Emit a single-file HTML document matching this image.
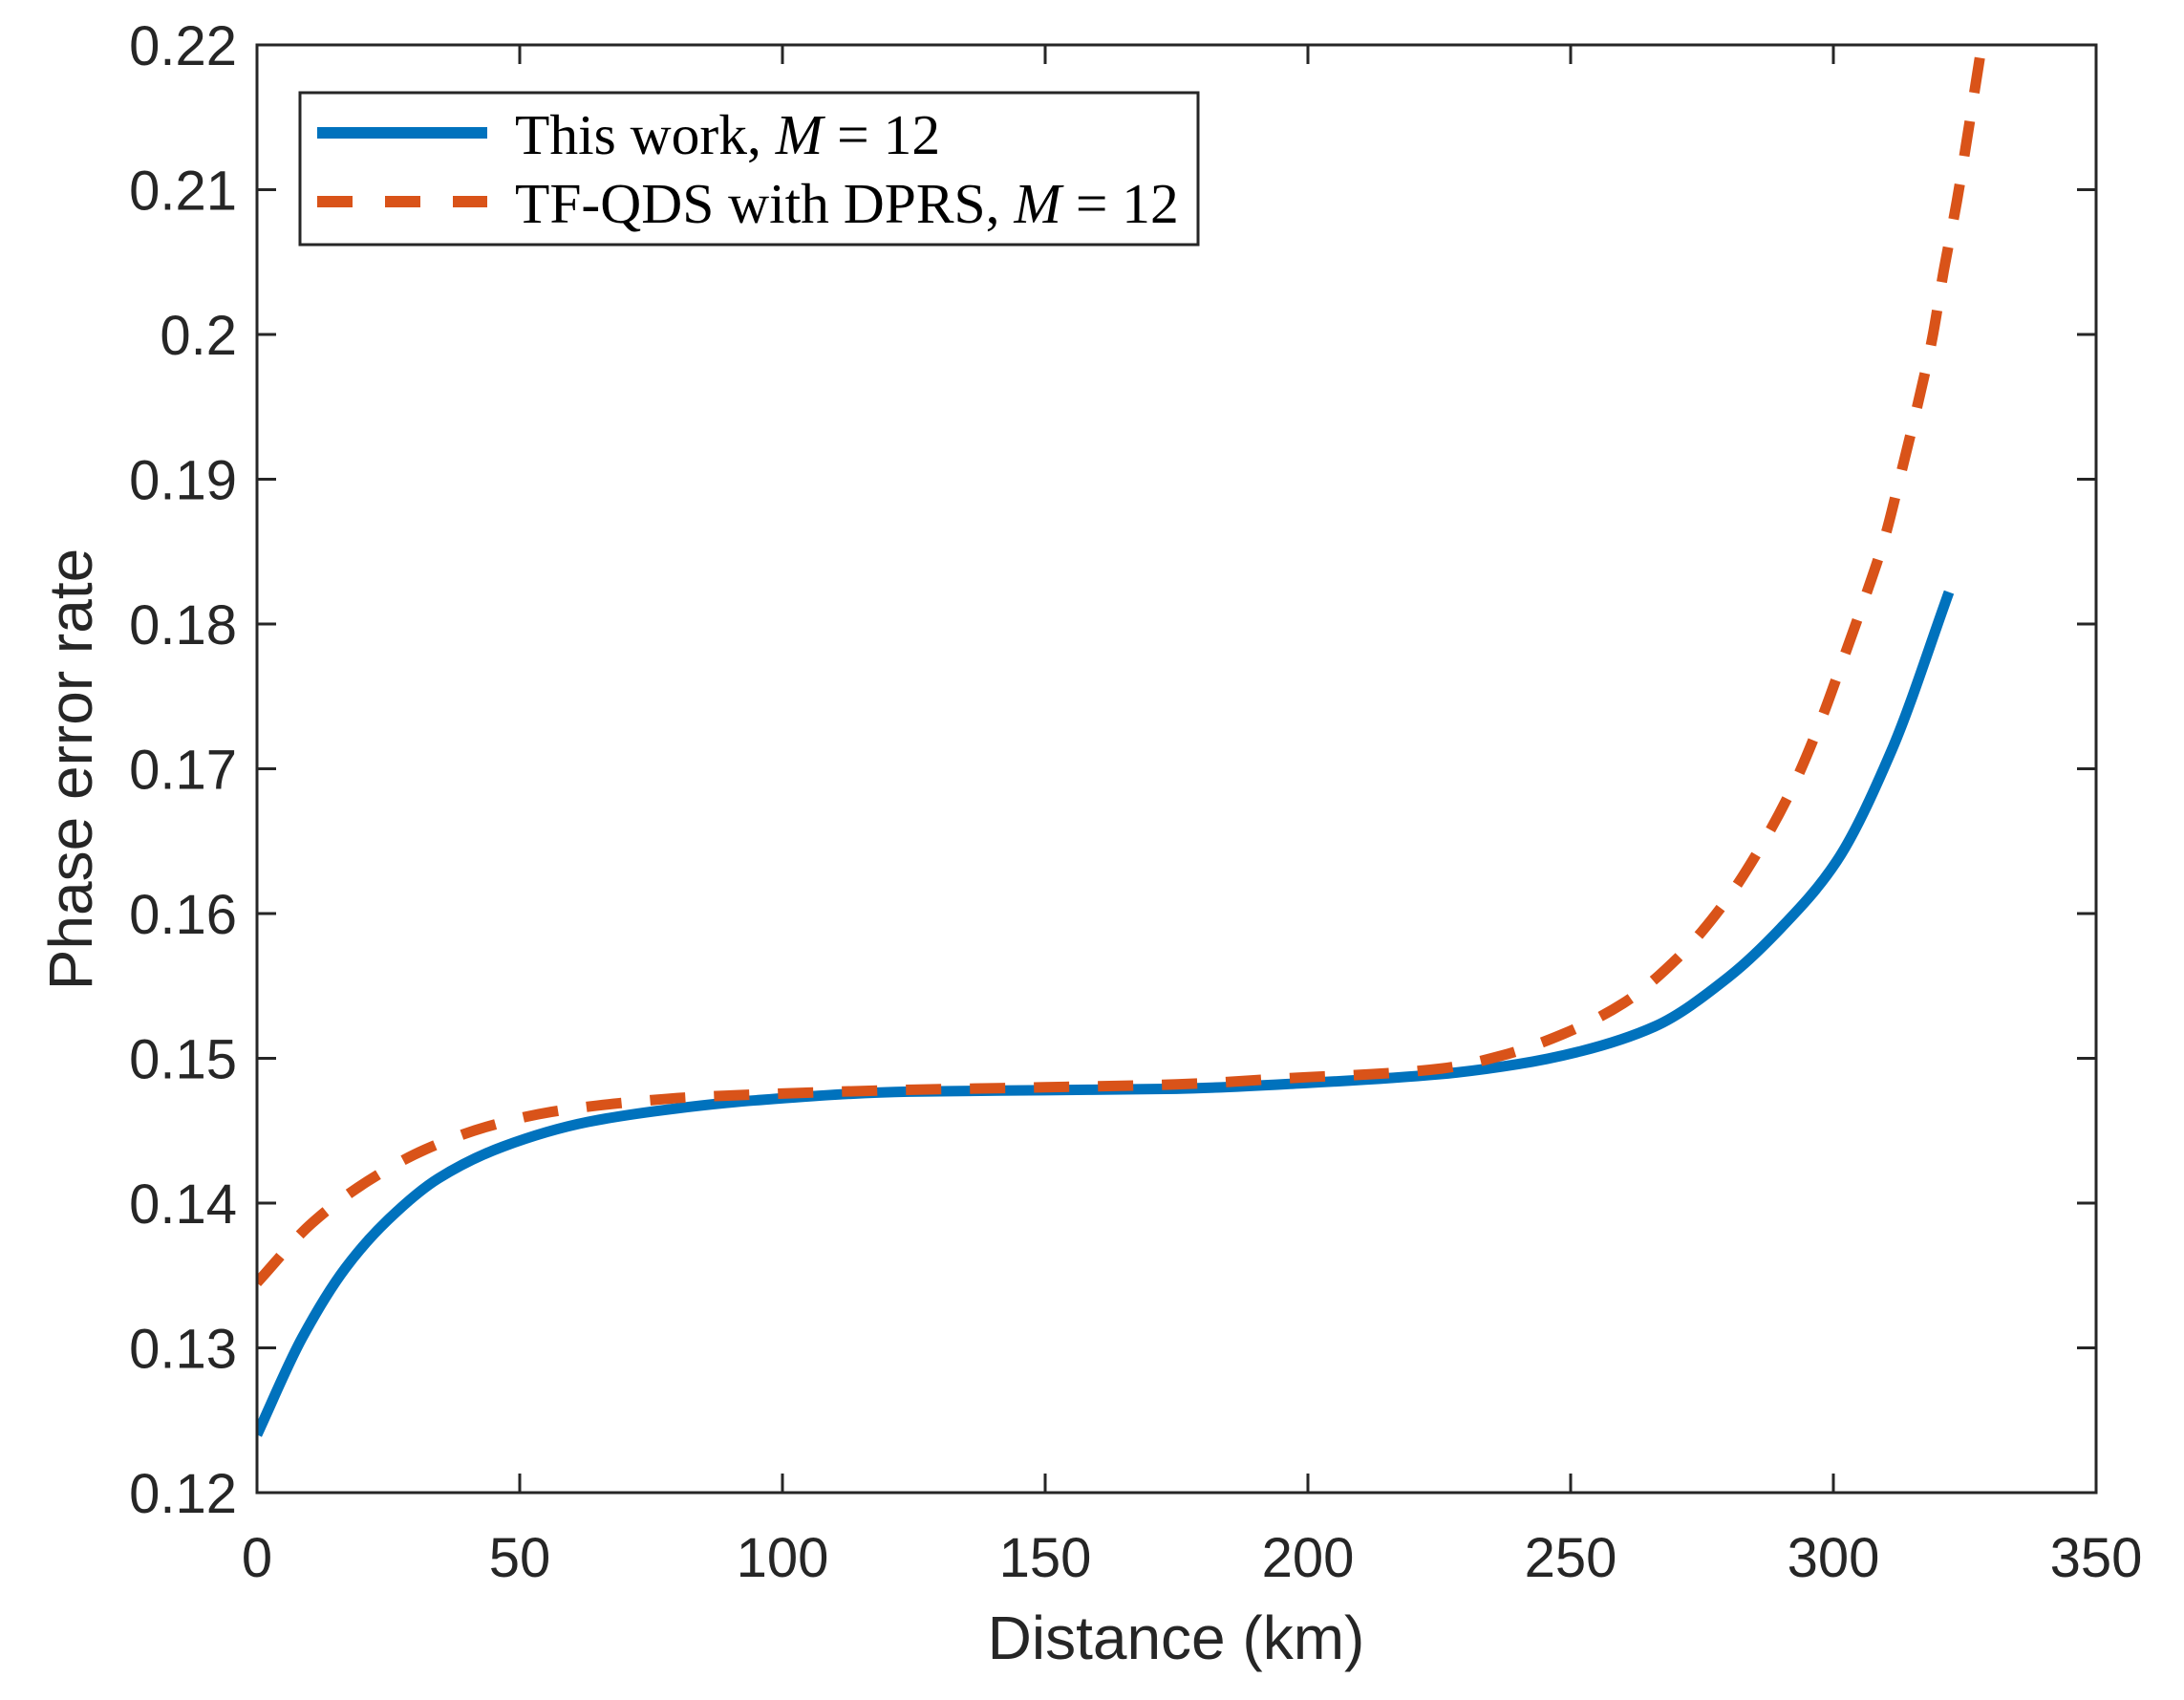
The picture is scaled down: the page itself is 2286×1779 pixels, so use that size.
<!DOCTYPE html>
<html><head><meta charset="utf-8"><style>
body{margin:0;background:#fff}
svg{display:block}
.tk{font-family:"Liberation Sans",sans-serif;font-size:58px;fill:#262626}
.lg{font-family:"Liberation Serif",serif;font-size:59.5px;fill:#000}
</style></head><body>
<svg id="chart" width="2286" height="1779" viewBox="0 0 2286 1779">
<defs><clipPath id="clip"><rect x="269" y="47" width="1925" height="1515"/></clipPath></defs>
<g id="series" clip-path="url(#clip)"></g>
<g id="axes"></g>
<text class="tk" x="1231" y="1736" text-anchor="middle" style="font-size:64px">Distance (km)</text>
<text class="tk" transform="translate(96,805) rotate(-90)" text-anchor="middle" style="font-size:64px">Phase error rate</text>
<g>
<rect x="314" y="97" width="940" height="159" fill="#fff" stroke="#262626" stroke-width="3"/>
<line x1="332" y1="139" x2="510" y2="139" stroke="#0072BD" stroke-width="12"/>
<line x1="332" y1="211" x2="510" y2="211" stroke="#D95319" stroke-width="12" stroke-dasharray="37 34"/>
<text class="lg" x="539" y="161">This work, <tspan font-style="italic">M</tspan> = 12</text>
<text class="lg" x="539" y="233">TF-QDS with DPRS, <tspan font-style="italic">M</tspan> = 12</text>
</g>
</svg>
<script>
const blueX=[0,8.6,16.8,24.8,34.5,46.8,62.9,79,95,124,150,175,200,225,240,252,266,280,290,300.6,311,322];
const blueY=[0.124,0.1307,0.1355,0.1388,0.1417,0.1439,0.1456,0.1465,0.1471,0.1477,0.1478,0.1479,0.1483,0.1489,0.1496,0.1505,0.1522,0.1556,0.159,0.1636,0.1712,0.1822];
const orangeX=[0,10.4,21,32,44,56,69,82,95,121,150,175,200,212,225.5,237,248.7,260,270,279,286,292.6,297.8,302,306,309.8,313,316,318.8,321,323.5,325.6,327.6,330];
const orangeY=[0.1345,0.1386,0.1415,0.1437,0.1453,0.1463,0.1469,0.1473,0.1475,0.1478,0.148,0.1482,0.1487,0.1489,0.1493,0.1502,0.1517,0.1538,0.1568,0.1606,0.1645,0.169,0.1735,0.1777,0.1818,0.186,0.1906,0.1951,0.1997,0.2044,0.2092,0.2139,0.2185,0.224];
const xTicks=[0,50,100,150,200,250,300,350];
const yTicks=[0.12,0.13,0.14,0.15,0.16,0.17,0.18,0.19,0.2,0.21,0.22];
const yTickLabels=["0.12","0.13","0.14","0.15","0.16","0.17","0.18","0.19","0.2","0.21","0.22"];
const L=269,R=2194,T=47,B=1562;
const sx=v=>L+(v-0)/350*(R-L);
const sy=v=>B-(v-0.12)/0.1*(B-T);
const NS="http://www.w3.org/2000/svg";
function mk(tag,attrs,parent){const e=document.createElementNS(NS,tag);for(const k in attrs)e.setAttribute(k,attrs[k]);parent.appendChild(e);return e;}
function pathFor(xs,ys){
  const p=xs.map((x,i)=>[sx(x),sy(ys[i])]);
  const n=p.length;
  const dx=[],dy=[],m=[];
  for(let i=0;i<n-1;i++){dx.push(p[i+1][0]-p[i][0]);dy.push(p[i+1][1]-p[i][1]);m.push(dy[i]/dx[i]);}
  const t=[m[0]];
  for(let i=1;i<n-1;i++){t.push(m[i-1]*m[i]<=0?0:(dx[i-1]+dx[i])*3/((2*dx[i]+dx[i-1])/m[i-1]+(dx[i]+2*dx[i-1])/m[i]));}
  t.push(m[n-2]);
  let d="M"+p[0][0]+","+p[0][1];
  for(let i=0;i<n-1;i++){
    const h=dx[i]/3;
    d+=" C"+(p[i][0]+h)+","+(p[i][1]+t[i]*h)+" "+(p[i+1][0]-h)+","+(p[i+1][1]-t[i+1]*h)+" "+p[i+1][0]+","+p[i+1][1];
  }
  return d;
}
const sg=document.getElementById("series");
const b=mk("path",{d:pathFor(blueX,blueY),fill:"none",stroke:"#0072BD","stroke-width":11,"stroke-linejoin":"round"},sg);


const o=mk("path",{d:pathFor(orangeX,orangeY),fill:"none",stroke:"#D95319","stroke-width":11,"stroke-dasharray":"37 30"},sg);


const ax=document.getElementById("axes");
const box=mk("rect",{x:L,y:T,width:R-L,height:B-T,fill:"none",stroke:"#262626","stroke-width":3},ax);


xTicks.forEach(t=>{
  const x=sx(t);
  mk("line",{x1:x,y1:B,x2:x,y2:B-20,stroke:"#262626","stroke-width":3},ax);
  mk("line",{x1:x,y1:T,x2:x,y2:T+20,stroke:"#262626","stroke-width":3},ax);
  const tx=mk("text",{x:x,y:1650,"text-anchor":"middle",class:"tk"},ax);
  tx.textContent=String(t);
  
  
});
yTicks.forEach((t,i)=>{
  const y=sy(t);
  mk("line",{x1:L,y1:y,x2:L+20,y2:y,stroke:"#262626","stroke-width":3},ax);
  mk("line",{x1:R,y1:y,x2:R-20,y2:y,stroke:"#262626","stroke-width":3},ax);
  const tx=mk("text",{x:248,y:y+21,"text-anchor":"end",class:"tk"},ax);
  tx.textContent=yTickLabels[i];
  
  
});
</script>
</body></html>
